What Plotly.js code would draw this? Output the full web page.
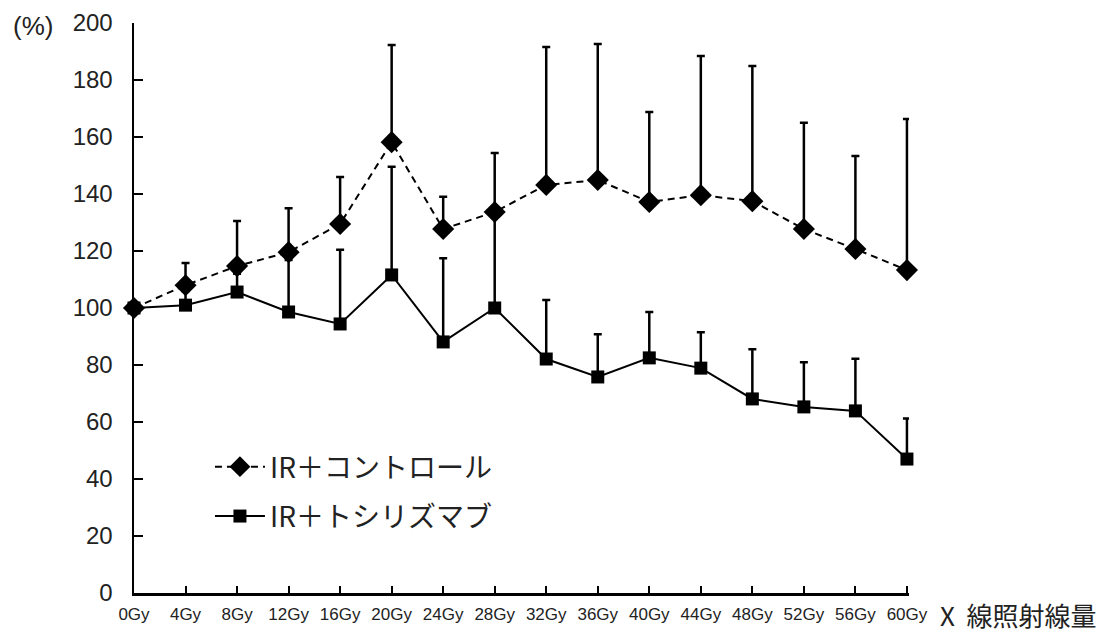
<!DOCTYPE html>
<html>
<head>
<meta charset="utf-8">
<script src="https://cdn.plot.ly/plotly-3.0.1.min.js"></script>
<style>html,body{margin:0;padding:0;background:#fff;}#chart{width:1099px;height:632px;}</style>
</head>
<body>
<div id="chart"></div>
<script>
const categories = ["0Gy","4Gy","8Gy","12Gy","16Gy","20Gy","24Gy","28Gy","32Gy","36Gy","40Gy","44Gy","48Gy","52Gy","56Gy","60Gy"];
const controlName = "IR＋コントロール";
const controlValues = [100, 108, 114.7, 119.6, 129.5, 158.2, 127.7, 133.7, 143.2, 144.9, 137.2, 139.6, 137.5, 127.7, 120.7, 113.3];
const controlUpper = [100, 115.8, 130.5, 135, 146, 192.3, 139, 154.4, 191.6, 192.6, 168.8, 188.4, 184.9, 165, 153.3, 166.3];
const tociName = "IR＋トシリズマブ";
const tociValues = [100, 101, 105.6, 98.6, 94.4, 111.6, 88.1, 100, 82.1, 75.8, 82.5, 78.9, 68.1, 65.3, 63.9, 47];
const tociUpper = [100, 106, 112, 116.8, 120.4, 149.6, 117.5, 133, 102.8, 90.8, 98.6, 91.5, 85.5, 81, 82.2, 61.2];
const yTicks = [0,20,40,60,80,100,120,140,160,180,200];

const controlErr = controlUpper.map((u,i)=>Math.max(0,u-controlValues[i]));
const tociErr = tociUpper.map((u,i)=>Math.max(0,u-tociValues[i]));
const zeros = categories.map(()=>0);

const traces = [
  {
    x: categories, y: tociValues, name: tociName, type: 'scatter', mode: 'lines+markers',
    line: {color: '#000', width: 2, dash: 'solid'},
    marker: {symbol: 'square', size: 13, color: '#000'},
    error_y: {type: 'data', symmetric: false, array: tociErr, arrayminus: zeros, color: '#000', thickness: 2.5, width: 4},
    cliponaxis: false,
    legendgroup: 'b', legendrank: 2
  },
  {
    x: categories, y: controlValues, name: controlName, type: 'scatter', mode: 'lines+markers',
    line: {color: '#000', width: 2, dash: '7px,5px'},
    marker: {symbol: 'diamond', size: 17, color: '#000'},
    error_y: {type: 'data', symmetric: false, array: controlErr, arrayminus: zeros, color: '#000', thickness: 2.5, width: 4},
    cliponaxis: false,
    legendgroup: 'a', legendrank: 1
  }
];

const layout = {
  width: 1099, height: 632,
  margin: {l: 134, r: 190, t: 23, b: 39},
  paper_bgcolor: '#fff', plot_bgcolor: '#fff',
  showlegend: true,
  legend: {
    x: 0.098, y: 0.265, xanchor: 'left', yanchor: 'top',
    font: {family: 'Noto Sans CJK JP', size: 28, color: '#222'},
    bgcolor: 'rgba(0,0,0,0)', traceorder: 'grouped', tracegroupgap: 10,
    itemwidth: 50
  },
  xaxis: {
    type: 'category', range: [0, 15.04],
    showline: true, linecolor: '#000', linewidth: 2.5,
    ticks: 'inside', ticklen: 7, tickwidth: 2, tickcolor: '#000',
    showgrid: false, zeroline: false,
    tickfont: {family: 'Liberation Sans, Arial', size: 17, color: '#222'},
    ticklabelstandoff: 4,
    fixedrange: true
  },
  yaxis: {
    range: [0, 200], tickvals: yTicks, ticktext: yTicks.map(String),
    showline: true, linecolor: '#000', linewidth: 2.5,
    ticks: 'inside', ticklen: 9, tickwidth: 2, tickcolor: '#000',
    showgrid: false, zeroline: false,
    tickfont: {family: 'Liberation Sans, Arial', size: 24, color: '#222'},
    ticklabelstandoff: 14,
    fixedrange: true
  },
  annotations: [
    {text: '(%)', xref: 'paper', yref: 'paper', x: -0.159, y: 0.995, xanchor: 'left', yanchor: 'middle', showarrow: false,
     font: {family: 'Liberation Sans, Arial', size: 26, color: '#222'}},
    {text: 'X  線照射線量', xref: 'paper', yref: 'paper', x: 1.038, y: -0.038, xanchor: 'left', yanchor: 'middle', showarrow: false,
     font: {family: 'Noto Sans CJK JP', size: 26, color: '#222'}}
  ]
};

Plotly.newPlot('chart', traces, layout, {displayModeBar: false, staticPlot: true});
</script>
</body>
</html>
